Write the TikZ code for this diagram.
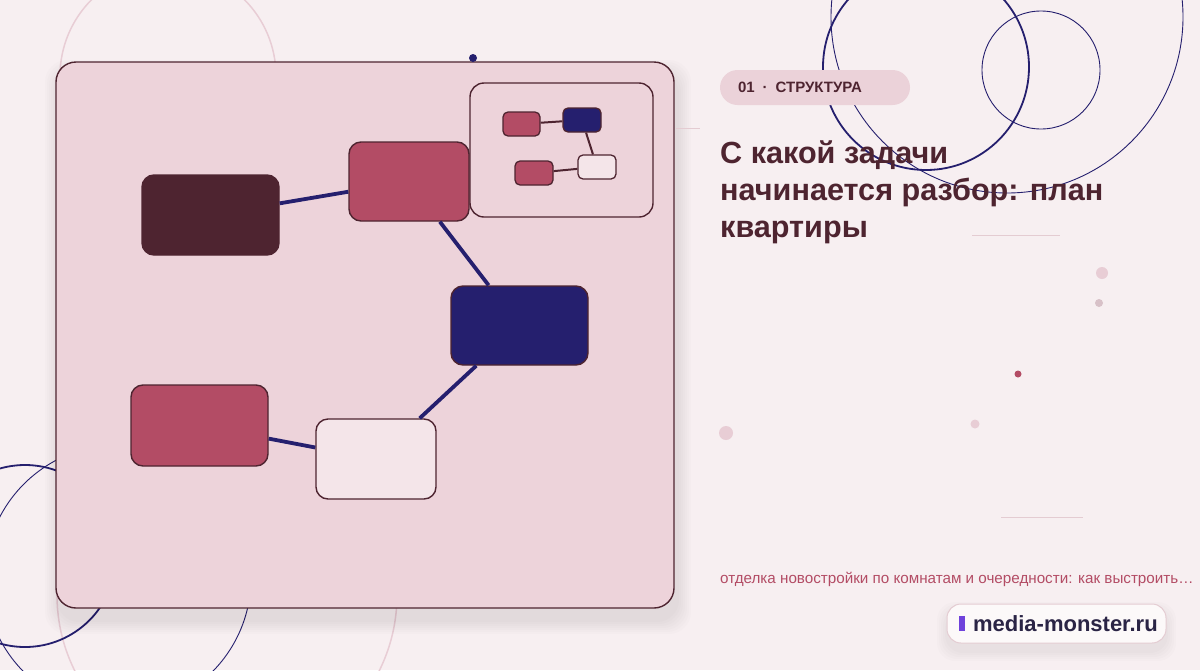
\documentclass[tikz,border=0pt]{standalone}
\usepackage{fontspec}
\setmainfont{Liberation Sans}
\usetikzlibrary{positioning}

\definecolor{fondo}{HTML}{F7EFF1}
\definecolor{panel}{HTML}{EDD3DA}
\definecolor{vino}{HTML}{4E2430}
\definecolor{rosa}{HTML}{B34C65}
\definecolor{marino}{HTML}{251F6E}
\definecolor{claro}{HTML}{F4E5E9}
\definecolor{pastilla}{HTML}{EBD2D9}
\definecolor{punto}{HTML}{E8CDD5}
\definecolor{raya}{HTML}{E4CCD2}
\definecolor{violeta}{HTML}{6F42DB}
\definecolor{tinta}{HTML}{2A2445}

\tikzset{
  caja/.style={draw=vino, line width=1.4pt, rounded corners=12pt, inner sep=0pt},
  enlace/.style={draw=marino, line width=3.8pt},
  mini/.style={draw=vino, line width=1.3pt, rounded corners=5pt, inner sep=0pt,
    minimum width=38pt, minimum height=24pt},
  minienlace/.style={draw=vino, line width=2pt},
  aro/.style={draw=marino, line width=1.8pt},
  arofino/.style={draw=marino, line width=0.9pt},
  arorosa/.style={draw=punto, line width=1.5pt}
}

\begin{document}
\begin{tikzpicture}[x=1pt,y=-1pt]

    % Fondo y marco fijo de la imagen
    \fill[fondo] (0,0) rectangle (1200,670);
    \useasboundingbox (0,0) rectangle (1200,670);

    % Arcos decorativos rosados detrás del panel
    \draw[arorosa] (168,76) circle (108);
    \draw[arorosa] (227,595) circle (170);

    % Aros azules: abajo a la izquierda y arriba a la derecha
    \draw[aro] (25,556) circle (91);
    \draw[arofino] (118,578) circle (133);
    \draw[aro] (926,67) circle (103);
    \draw[arofino] (1007,17) circle (176);
    \draw[arofino] (1041,70) circle (59);

    % Sombra suave del panel
    \foreach \s in {2,4,...,14}
        \fill[black, opacity=0.012, rounded corners=22pt]
            (56-\s+3, 62-\s+12) rectangle (674+\s+3, 608+\s+12);

    % Panel principal con el plano
    \node[caja, fill=panel, rounded corners=20pt, minimum width=618pt, minimum height=546pt] (panel) at (365,335) {};

    % Estancias del plano
    \node[caja, fill=vino, minimum width=137pt, minimum height=80pt] (salon) at (210.5,215) {};
    \node[caja, fill=rosa, minimum width=120pt, minimum height=79pt] (cocina) at (409,181.5) {};
    \node[caja, fill=marino, minimum width=137pt, minimum height=79pt] (pasillo) at (519.5,325.5) {};
    \node[caja, fill=rosa, minimum width=137pt, minimum height=81pt] (dormitorio) at (199.5,425.5) {};
    \node[caja, fill=claro, minimum width=120pt, minimum height=80pt] (bano) at (376,459) {};

    % Uniones entre estancias
    \draw[enlace] (salon) -- (cocina);
    \draw[enlace] (cocina) -- (pasillo);
    \draw[enlace] (pasillo) -- (bano);
    \draw[enlace] (dormitorio) -- (bano);

    % Miniatura del esquema (esquina superior derecha del panel)
    \node[caja, fill=panel, rounded corners=14pt, minimum width=183pt, minimum height=134pt] (miniatura) at (561.5,150) {};
    \node[mini, fill=rosa, minimum width=37pt] (ma) at (521.5,124) {};
    \node[mini, fill=marino] (mb) at (582,120) {};
    \node[mini, fill=claro] (mc) at (597,167) {};
    \node[mini, fill=rosa] (md) at (534,173) {};
    \draw[minienlace] (ma) -- (mb);
    \draw[minienlace] (mb) -- (mc);
    \draw[minienlace] (md) -- (mc);

    % Punto azul sobre el panel
    \fill[marino] (473,58) circle (4);

    % Rayas finas
    \draw[raya, line width=1pt] (676,128) -- (700,128);
    \draw[raya, line width=1pt] (972,235) -- (1060,235);
    \draw[raya, line width=1pt] (1001,517) -- (1083,517);

    % Puntos decorativos
    \fill[punto] (1102,273) circle (6);
    \fill[punto!85!gray] (1099,303) circle (4);
    \fill[rosa] (1018,374) circle (3.5);
    \fill[punto] (975,424) circle (4.5);
    \fill[punto] (726,433) circle (7);

    % Etiqueta de sección
    \node[fill=pastilla, rounded corners=17.5pt, minimum height=35pt, text width=154pt, inner xsep=18pt,
          align=left, text=vino, font=\fontsize{15}{17}\selectfont\bfseries] (seccion) at (815,87.5)
          {01\hspace{8pt}·\hspace{8pt}СТРУКТУРА};

    % Título
    \node[anchor=north west, inner sep=0pt, align=left, text=vino,
          font=\fontsize{30.6}{37}\selectfont\bfseries] (titulo) at (720,141)
          {С какой задачи\\начинается разбор: план\\квартиры};

    % Subtítulo
    \node[anchor=base west, inner sep=0pt, text=rosa, font=\fontsize{15.2}{18}\selectfont] (subtitulo) at (720,583)
          {отделка новостройки по комнатам и очередности: как выстроить…};

    % Sombra y pastilla de la marca
    \foreach \s in {2,4,...,10}
        \fill[black, opacity=0.012, rounded corners=18pt]
            (947-\s, 604-\s+8) rectangle (1166+\s, 643+\s+8);
    \node[draw=raya, line width=1pt, fill=white!60!fondo, rounded corners=14pt, minimum width=219pt, minimum height=39pt, inner sep=0pt] (marca) at (1056.5,623.5) {};
    \node[fill=violeta, minimum width=6pt, minimum height=15pt, inner sep=0pt, anchor=west, right=12pt of marca.west] (barra) {};
    \node[anchor=west, inner sep=0pt, text=tinta, font=\fontsize{22}{24}\selectfont\bfseries, right=8pt of barra.east] (dominio) {media-monster.ru};

\end{tikzpicture}
\end{document}
